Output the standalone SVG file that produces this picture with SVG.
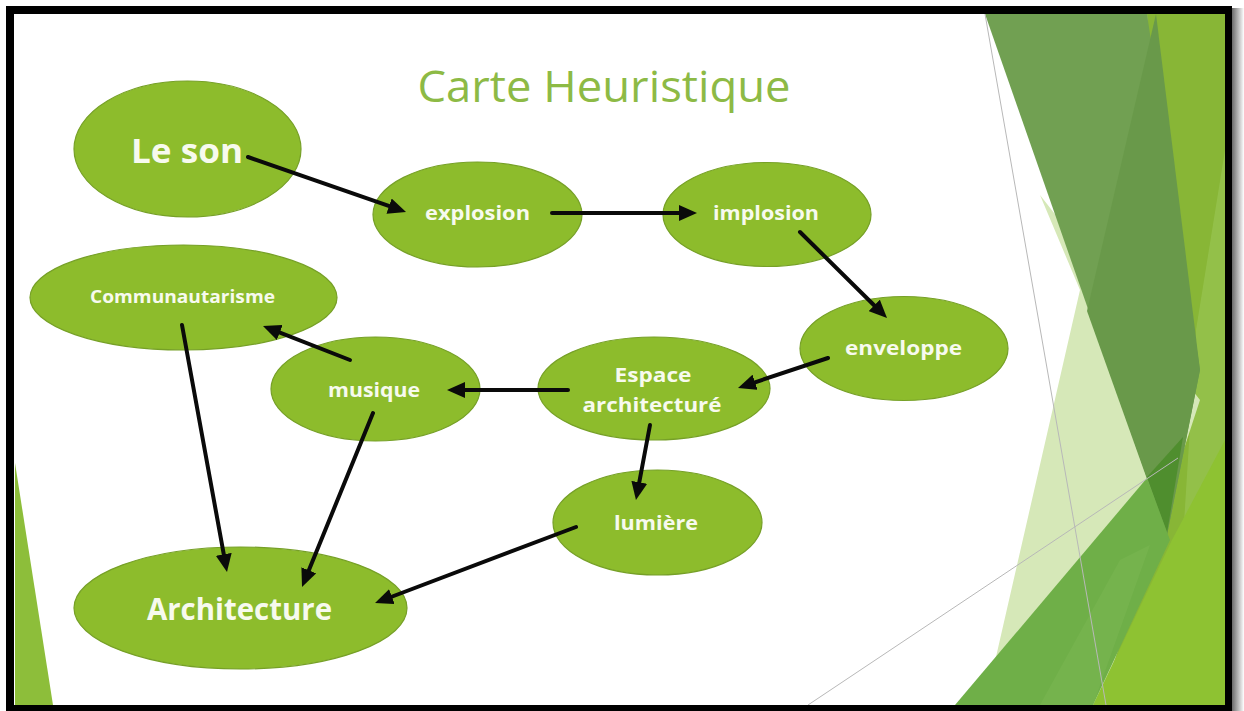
<svg xmlns="http://www.w3.org/2000/svg" width="1244" height="711" viewBox="0 0 1244 711">
<defs>
<style>
.node{fill:#8DBC2C;stroke:#76A027;stroke-width:1.2}
.lbl{font-family:"Open Sans","Liberation Sans",sans-serif;font-weight:700;fill:#F7FAEE;text-anchor:middle}
.title{font-family:"Open Sans","Liberation Sans",sans-serif;font-weight:400;fill:#8DBA45;text-anchor:middle}
.conn{stroke:#0A0A0A;stroke-width:4;fill:none;stroke-linecap:round;marker-end:url(#ah)}
.gl{stroke:#B8B8B8;stroke-width:1;fill:none}
</style>
<marker id="ah" markerUnits="userSpaceOnUse" markerWidth="18" markerHeight="16" viewBox="0 0 18 16" refX="8" refY="8" orient="auto">
<path d="M0,0 L18,8 L0,16 z" fill="#0A0A0A"/>
</marker>
<linearGradient id="sh" x1="0" y1="0" x2="1" y2="0">
<stop offset="0" stop-color="#6a6a6a"/>
<stop offset="1" stop-color="#ffffff"/>
</linearGradient>
<clipPath id="inner"><rect x="14" y="14" width="1211" height="691"/></clipPath>
</defs>

<rect x="0" y="0" width="1244" height="711" fill="#ffffff"/>
<rect x="1232" y="8" width="12" height="703" fill="url(#sh)"/>
<rect x="6" y="6" width="1226" height="705" fill="#000000"/>
<rect x="14" y="14" width="1211" height="691" fill="#ffffff"/>

<g id="background" clip-path="url(#inner)">
<polygon points="15,463 15,705 53,705" fill="#8DBE3A"/>
<polygon points="1147,14 1225,14 1225,705 1090,705 1167,535" fill="#88B636"/>
<polygon points="1225,150 1225,540 1178,620 1196,330" fill="#9CC85A" opacity="0.55"/>
<polygon points="1040,195 1080,290 985,705 1100,705 1200,400" fill="#D6E8B8"/>
<polygon points="985,14 1147,14 1200,370 1167,535" fill="#71A052"/>
<polygon points="1156,14 1200,370 1167,535 1087,311" fill="#69994A"/>
<polygon points="1147,477 1183,437 1167,533" fill="#4F8E2E"/>
<polygon points="1225,440 1225,705 1093,705 1172,540" fill="#8EC232"/>
<polygon points="955,705 1147,478 1170,540 1093,705" fill="#6FAF48"/>
<polygon points="1040,705 1120,560 1150,545 1093,705" fill="#7AB552" opacity="0.6"/>
<line class="gl" x1="985" y1="14" x2="1106" y2="705"/>
<line class="gl" x1="808" y1="705" x2="1178" y2="458"/>
</g>

<text class="title" x="604" y="102" font-size="44" textLength="373" lengthAdjust="spacingAndGlyphs">Carte Heuristique</text>

<g id="node-le-son">
<ellipse class="node" cx="187.5" cy="149" rx="113.5" ry="68"/>
<text class="lbl" x="187" y="163" font-size="34" textLength="112" lengthAdjust="spacingAndGlyphs">Le son</text>
</g>
<g id="node-explosion">
<ellipse class="node" cx="477.5" cy="214.5" rx="104.5" ry="52.5"/>
<text class="lbl" x="477.5" y="220" font-size="20" textLength="105" lengthAdjust="spacingAndGlyphs">explosion</text>
</g>
<g id="node-implosion">
<ellipse class="node" cx="767" cy="214.5" rx="104" ry="52"/>
<text class="lbl" x="766" y="220" font-size="20" textLength="106" lengthAdjust="spacingAndGlyphs">implosion</text>
</g>
<g id="node-enveloppe">
<ellipse class="node" cx="904" cy="348.5" rx="104" ry="52"/>
<text class="lbl" x="903.5" y="355" font-size="20" textLength="117" lengthAdjust="spacingAndGlyphs">enveloppe</text>
</g>
<g id="node-espace">
<ellipse class="node" cx="654" cy="388.5" rx="116" ry="51.5"/>
<text class="lbl" x="653" y="382" font-size="20" textLength="77" lengthAdjust="spacingAndGlyphs">Espace</text>
<text class="lbl" x="652" y="412" font-size="20" textLength="139" lengthAdjust="spacingAndGlyphs">architecturé</text>
</g>
<g id="node-lumiere">
<ellipse class="node" cx="657.5" cy="522.5" rx="104.5" ry="52.5"/>
<text class="lbl" x="656" y="530" font-size="20" textLength="84" lengthAdjust="spacingAndGlyphs">lumière</text>
</g>
<g id="node-communautarisme">
<ellipse class="node" cx="183.5" cy="297.5" rx="153.5" ry="52.5"/>
<text class="lbl" x="182.5" y="303" font-size="17" textLength="185" lengthAdjust="spacingAndGlyphs">Communautarisme</text>
</g>
<g id="node-musique">
<ellipse class="node" cx="375.5" cy="389" rx="104.5" ry="52"/>
<text class="lbl" x="374" y="397" font-size="20" textLength="92" lengthAdjust="spacingAndGlyphs">musique</text>
</g>
<g id="node-architecture">
<ellipse class="node" cx="240.5" cy="608" rx="166.5" ry="61"/>
<text class="lbl" x="239.5" y="620" font-size="30" textLength="185" lengthAdjust="spacingAndGlyphs">Architecture</text>
</g>

<g id="connectors">
<line class="conn" x1="248" y1="157" x2="396.6" y2="208.7"/>
<line class="conn" x1="552" y1="213" x2="687" y2="213"/>
<line class="conn" x1="800" y1="232" x2="879.9" y2="311"/>
<line class="conn" x1="828" y1="358" x2="747.5" y2="384.8"/>
<line class="conn" x1="568" y1="390" x2="457" y2="390"/>
<line class="conn" x1="650" y1="425" x2="637.8" y2="490.2"/>
<line class="conn" x1="576" y1="527" x2="384.4" y2="599.5"/>
<line class="conn" x1="350" y1="360" x2="272.3" y2="329.6"/>
<line class="conn" x1="182" y1="325" x2="225.2" y2="562.2"/>
<line class="conn" x1="373" y1="413" x2="305.8" y2="577.7"/>
</g>
</svg>
